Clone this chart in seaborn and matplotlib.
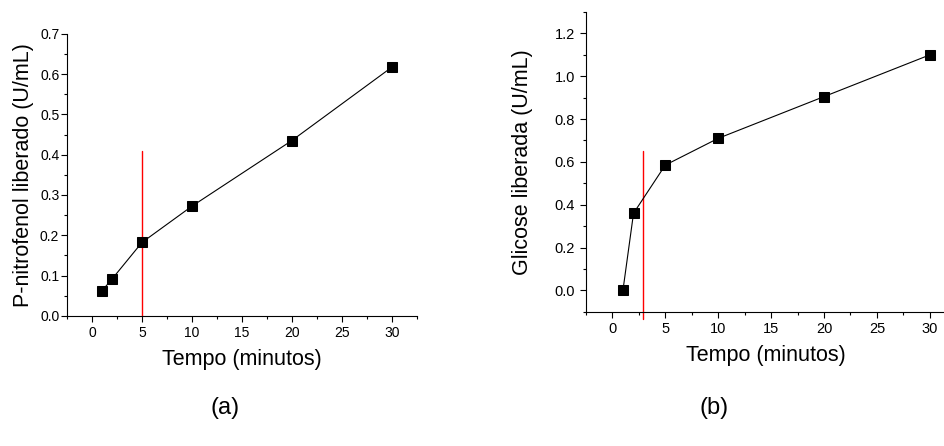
import matplotlib
matplotlib.use("Agg")
import matplotlib.pyplot as plt
from matplotlib.ticker import MultipleLocator
import seaborn as sns
import pandas as pd

# Data
tempo = [1, 2, 5, 10, 20, 30]
pnitrofenol = [0.062, 0.091, 0.182, 0.272, 0.435, 0.617]
glicose = [0.0, 0.36, 0.585, 0.71, 0.905, 1.10]
xlabel = "Tempo (minutos)"
ylabel_a = "P-nitrofenol liberado (U/mL)"
ylabel_b = "Glicose liberada (U/mL)"
panel_labels = ["(a)", "(b)"]
red_a = (5, 0.0, 0.41)
red_b = (2.9, -0.135, 0.65)

sns.set_style("ticks")
plt.rcParams['font.family'] = ['Liberation Sans', 'DejaVu Sans']
plt.rcParams['text.color'] = 'black'
plt.rcParams['axes.labelcolor'] = 'black'

df_a = pd.DataFrame({"t": tempo, "v": pnitrofenol})
df_b = pd.DataFrame({"t": tempo, "v": glicose})

fig = plt.figure(figsize=(9.45, 4.46), dpi=100)
ax1 = fig.add_axes([0.0709, 0.292, 0.370, 0.632])
ax2 = fig.add_axes([0.620, 0.301, 0.380, 0.672])

def style(ax, df, ylab, xlim, ylim, ymaj, ymin, red, ypad, ytpad, tsize):
    sns.lineplot(data=df, x="t", y="v", ax=ax, color="black", linewidth=0.8,
                 marker="s", markersize=6.5, markeredgecolor="black",
                 markerfacecolor="black")
    x, y0, y1 = red
    ax.plot([x, x], [y0, y1], color="red", linewidth=1.0, clip_on=False, zorder=1)
    ax.set_xlim(*xlim)
    ax.set_ylim(*ylim)
    ax.xaxis.set_major_locator(MultipleLocator(5))
    ax.xaxis.set_minor_locator(MultipleLocator(2.5))
    ax.yaxis.set_major_locator(MultipleLocator(ymaj))
    ax.yaxis.set_minor_locator(MultipleLocator(ymin))
    ax.tick_params(which="major", direction="out", length=4, width=0.8,
                   labelsize=tsize, colors="black")
    ax.tick_params(which="minor", direction="out", length=2.5, width=0.8,
                   colors="black")
    ax.tick_params(axis="y", which="major", pad=ytpad)
    for s in ["top", "right"]:
        ax.spines[s].set_visible(False)
    for s in ["left", "bottom"]:
        ax.spines[s].set_linewidth(0.8)
        ax.spines[s].set_color("black")
    ax.set_xlabel(xlabel, fontsize=15.5, labelpad=6, color="black")
    ax.set_ylabel(ylab, fontsize=15.5, labelpad=ypad, color="black")

style(ax1, df_a, ylabel_a, (-2.5, 32.5), (0, 0.7), 0.1, 0.05, red_a, 4.5, 1.5, 10)
style(ax2, df_b, ylabel_b, (-2.5, 31.43), (-0.1, 1.3), 0.2, 0.1, red_b, 15, 4, 10.5)

fig.text(0.238, 0.085, panel_labels[0], fontsize=17, ha="center", va="center")
fig.text(0.756, 0.085, panel_labels[1], fontsize=17, ha="center", va="center")

fig.savefig("out.png", dpi=100)
